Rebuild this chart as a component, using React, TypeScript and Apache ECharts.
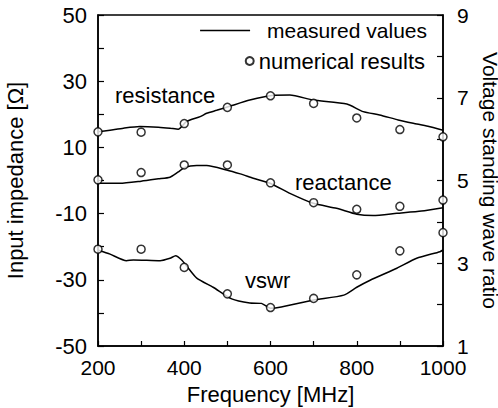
import React, { useEffect, useRef } from "react";
import * as echarts from "echarts";

// Measured curves [frequency MHz, value]
const resistanceMeasured: [number, number][] = [
  [200, 14.7], [228, 15.2], [259, 15.8], [297, 16.3], [340, 16.1], [367, 15.8], [386, 15.5],
  [405, 17.8], [437, 19.3], [452, 20.3], [475, 21.2], [507, 22.5], [552, 24.3], [603, 25.7],
  [645, 25.8], [699, 24.3], [777, 23.1], [815, 20.8], [853, 19.8], [896, 18.3], [931, 17.3],
  [965, 16.4], [1000, 15.2],
];
const reactanceMeasured: [number, number][] = [
  [200, -0.85], [251, -0.85], [300, -0.2], [340, 0.5], [367, 1.0], [385, 2.5], [402, 4.0],
  [429, 4.5], [452, 4.5], [498, 3.2], [530, 2.0], [560, 0.7], [599, -0.85], [645, -3.9],
  [699, -6.9], [753, -8.4], [800, -10.2], [838, -10.6], [893, -9.9], [950, -9.2], [1000, -8.2],
];
const vswrMeasured: [number, number][] = [
  [200, 3.32], [228, 3.22], [266, 3.06], [282, 3.08], [344, 3.06], [367, 3.12], [380, 3.18],
  [394, 3.08], [405, 2.94], [429, 2.64], [467, 2.42], [510, 2.14], [552, 2.04], [579, 2.03],
  [600, 1.91], [625, 1.94], [700, 2.11], [770, 2.23], [800, 2.42], [831, 2.59], [893, 2.88],
  [939, 3.12], [993, 3.28], [1000, 3.32],
];

// Numerical results
const freqs = [200, 300, 400, 500, 600, 700, 800, 900, 1000];
const resistanceNumerical = [14.7, 14.6, 17.2, 22.1, 25.6, 23.3, 18.9, 15.4, 13.2];
const reactanceNumerical = [0.2, 2.4, 4.7, 4.7, -0.7, -6.7, -8.7, -7.8, -5.9];
const vswrNumerical = [3.34, 3.34, 2.9, 2.26, 1.93, 2.15, 2.72, 3.3, 3.74];

const FONT = "'Liberation Sans', Arial, Helvetica, sans-serif";

export default function App() {
  const ref = useRef<HTMLDivElement>(null);
  useEffect(() => {
    if (!ref.current) return;
    const chart = echarts.init(ref.current, undefined, { renderer: "svg" });
    const lineSeries = (data: [number, number][], yAxisIndex: number) => ({
      name: "measured values",
      type: "line",
      data,
      yAxisIndex,
      smooth: 0.2,
      showSymbol: false,
      symbol: "none",
      lineStyle: { color: "#000", width: 1.5 },
      itemStyle: { color: "#000" },
      z: 2,
    });
    const scatterSeries = (vals: number[], yAxisIndex: number) => ({
      name: "numerical results",
      type: "scatter",
      data: freqs.map((f, i) => [f, vals[i]]),
      yAxisIndex,
      symbol: "circle",
      symbolSize: 8,
      itemStyle: { color: "#fff", borderColor: "#000", borderWidth: 1.5 },
      z: 3,
    });
    const txt = { color: "#000", fontFamily: FONT, fontSize: 22 };
    chart.setOption({
      animation: false,
      backgroundColor: "#fff",
      grid: {
        left: 98, right: 55, top: 15, bottom: 62,
        outerBoundsMode: "none",
        containLabel: false,
        show: true, borderColor: "#000", borderWidth: 1.5, backgroundColor: "transparent",
      },
      legend: [
        {
          data: [{ name: "measured values", icon: "rect", itemStyle: { color: "#000" } }],
          right: 66, top: 15,
          itemWidth: 50, itemHeight: 1.5,
          textStyle: { color: "#000", fontFamily: FONT, fontSize: 21, padding: [0, 0, 0, 12] },
          selectedMode: false,
        },
        {
          data: ["numerical results"],
          right: 68, top: 45,
          itemWidth: 8, itemHeight: 8,
          textStyle: { color: "#000", fontFamily: FONT, fontSize: 22 },
          selectedMode: false,
        },
      ],
      xAxis: {
        type: "value", min: 200, max: 1000, interval: 100,
        name: "Frequency [MHz]", nameLocation: "middle", nameGap: 37,
        nameTextStyle: txt,
        axisLine: { show: true, onZero: false, lineStyle: { color: "#000", width: 1.5 } },
        axisTick: { show: true, inside: true, length: 5, lineStyle: { color: "#000", width: 1.2 } },
        axisLabel: {
          ...txt, fontSize: 21, lineHeight: 16, margin: 13,
          formatter: (v: number) => (v % 200 === 0 ? String(v) : ""),
        },
        splitLine: { show: false },
      },
      yAxis: [
        {
          type: "value", min: -50, max: 50, interval: 10,
          name: "Input impedance [Ω]", nameLocation: "middle", nameGap: 72, nameRotate: 90,
          nameTextStyle: txt,
          axisLine: { show: true, onZero: false, lineStyle: { color: "#000", width: 1.5 } },
          axisTick: { show: true, inside: true, length: 6, lineStyle: { color: "#000", width: 1.2 } },
          axisLabel: {
            ...txt, margin: 11,
            formatter: (v: number) => ((v + 50) % 20 === 0 ? String(v) : ""),
          },
          splitLine: { show: false },
        },
        {
          type: "value", min: 1, max: 9, interval: 1, position: "right",
          name: "Voltage standing wave ratio", nameLocation: "middle", nameGap: 24, nameRotate: -90,
          nameTextStyle: { ...txt, fontSize: 21, lineHeight: 18 },
          axisLine: { show: true, onZero: false, lineStyle: { color: "#000", width: 1.5 } },
          axisTick: { show: true, inside: true, length: 6, lineStyle: { color: "#000", width: 1.2 } },
          axisLabel: {
            ...txt, fontSize: 21, lineHeight: 16, margin: 14,
            formatter: (v: number) => ((v - 1) % 2 === 0 ? String(v) : ""),
          },
          splitLine: { show: false },
        },
      ],
      graphic: [
        { type: "text", left: 115, top: 84, style: { text: "resistance", fill: "#000", font: `22px ${FONT}` } },
        { type: "text", left: 295, top: 171, style: { text: "reactance", fill: "#000", font: `22px ${FONT}` } },
        { type: "text", left: 245, top: 269, style: { text: "vswr", fill: "#000", font: `22px ${FONT}` } },
      ],
      series: [
        lineSeries(resistanceMeasured, 0),
        lineSeries(reactanceMeasured, 0),
        lineSeries(vswrMeasured, 1),
        scatterSeries(resistanceNumerical, 0),
        scatterSeries(reactanceNumerical, 0),
        scatterSeries(vswrNumerical, 1),
      ],
    });
    return () => chart.dispose();
  }, []);
  return <div ref={ref} style={{ width: 498, height: 408, position: "absolute", left: 0, top: 0 }} />;
}
